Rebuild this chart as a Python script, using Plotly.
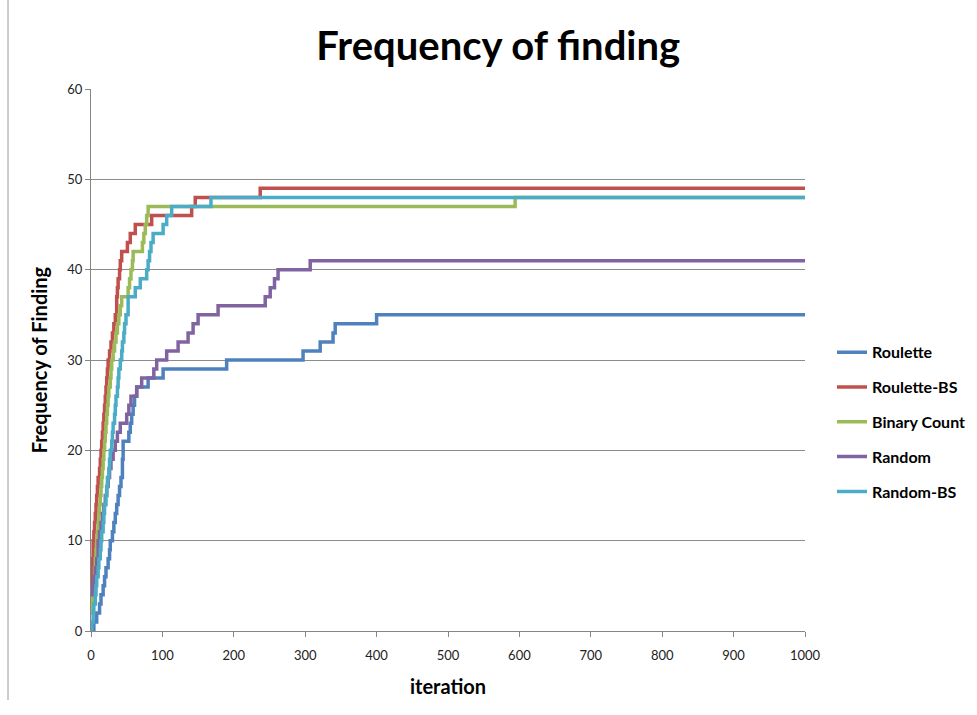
import plotly.graph_objects as go

# ---- data (step change points) ----
roulette_iter = [0, 4, 8, 12, 14, 17, 19, 21, 24, 26, 27, 30, 32, 34, 36, 38, 40, 42, 44, 45,
                 53, 55, 57, 59, 61, 64, 80, 101, 190, 297, 321, 339, 342, 400, 1000]
roulette_val = [0, 1, 2, 3, 4, 5, 6, 7, 8, 9, 10, 11, 12, 13, 14, 15, 16, 17, 19, 21,
                22, 23, 24, 25, 26, 27, 28, 29, 30, 31, 32, 33, 34, 35, 35]

roulette_bs_iter = [0, 1, 2, 3, 4, 5, 6, 7, 8, 9, 10, 11, 12, 13, 14, 15, 16, 17, 18, 19, 20,
                    21, 22, 23, 24, 26, 28, 30, 32, 34, 36, 37, 38, 40, 41, 43, 51, 55, 62, 85,
                    141, 146, 237, 1000]
roulette_bs_val = [5, 7, 8, 10, 11, 12, 13, 14, 15, 16, 17, 17, 18, 19, 20, 21, 22, 23, 24, 25, 26,
                   27, 28, 29, 30, 31, 32, 33, 34, 35, 37, 38, 39, 40, 41, 42, 43, 44, 45, 46,
                   47, 48, 49, 49]

binary_iter = [0, 1, 2, 3, 4, 5, 6, 7, 8, 9, 10, 11, 12, 13, 14, 15, 16, 17, 18, 19, 20, 21, 22,
               23, 24, 25, 26, 27, 28, 29, 31, 33, 35, 37, 39, 41, 43, 52, 54, 56, 58, 59, 72,
               74, 76, 78, 80, 594, 1000]
binary_val = [2, 3, 4, 5, 6, 7, 8, 9, 10, 11, 12, 13, 14, 15, 16, 17, 18, 19, 20, 21, 22, 23, 24,
              25, 26, 27, 27, 28, 29, 30, 31, 32, 33, 34, 35, 36, 37, 38, 39, 40, 41, 42, 43,
              44, 45, 46, 47, 48, 48]

random_iter = [0, 2, 4, 6, 8, 10, 12, 14, 16, 18, 20, 22, 24, 26, 28, 31, 34, 37, 41, 50, 53,
               56, 64, 71, 88, 92, 106, 122, 136, 143, 150, 178, 244, 251, 257, 262, 307, 1000]
random_val = [4, 5, 6, 7, 8, 10, 11, 12, 13, 14, 15, 16, 17, 18, 19, 20, 21, 22, 23, 24, 25,
              26, 27, 28, 29, 30, 31, 32, 33, 34, 35, 36, 37, 38, 39, 40, 41, 41]

random_bs_iter = [0, 1, 3, 4, 6, 7, 8, 10, 11, 13, 14, 15, 17, 18, 19, 21, 22, 23, 25, 26, 27,
                  29, 30, 31, 33, 34, 35, 37, 38, 39, 41, 43, 44, 46, 47, 49, 52, 62, 69, 78,
                  80, 82, 84, 87, 101, 106, 113, 168, 1000]
random_bs_val = [0, 1, 2, 3, 4, 5, 6, 7, 8, 9, 10, 11, 12, 13, 14, 15, 16, 17, 18, 19, 20,
                 21, 22, 23, 24, 25, 26, 27, 28, 29, 30, 31, 32, 33, 34, 35, 37, 38, 39, 40,
                 41, 42, 43, 44, 45, 46, 47, 48, 48]

series_names = ["Roulette", "Roulette-BS", "Binary Count", "Random", "Random-BS"]
colors = ["#4F81BD", "#C0504D", "#9BBB59", "#8064A2", "#4BACC6"]
x_ticks = list(range(0, 1001, 100))
y_ticks = list(range(0, 61, 10))

data = [
    (roulette_iter, roulette_val),
    (roulette_bs_iter, roulette_bs_val),
    (binary_iter, binary_val),
    (random_iter, random_val),
    (random_bs_iter, random_bs_val),
]

FONT = "Lato"

fig = go.Figure()
for name, color, (xs, ys) in zip(series_names, colors, data):
    assert len(xs) == len(ys), name
    fig.add_trace(go.Scatter(
        x=xs, y=ys, name=name, mode="lines",
        line=dict(color=color, width=3.5, shape="hv"),
        legendgroup=name,
    ))

fig.update_layout(
    width=977, height=715,
    margin=dict(l=91, r=172, t=89, b=84, autoexpand=False),
    paper_bgcolor="white", plot_bgcolor="white",
    font=dict(family=FONT, color="#000000"),
    title=dict(text="<b>Frequency of finding</b>", x=0.51, xanchor="center",
               y=0.935, yanchor="middle", font=dict(size=40, family=FONT, color="black")),
    showlegend=True,
    legend=dict(x=(832 - 91) / 714, xanchor="left", y=0.386, yanchor="middle",
                font=dict(size=16, family=FONT, color="black", weight="bold"),
                tracegroupgap=11, bgcolor="rgba(0,0,0,0)"),
)

fig.update_xaxes(
    range=[0, 1000], tickvals=x_ticks, ticktext=[str(t) for t in x_ticks],
    showgrid=False, showline=True, linecolor="#868686", linewidth=1,
    ticks="outside", ticklen=5, tickcolor="#868686", ticklabelstandoff=7,
    tickfont=dict(size=13, family=FONT, color="#222222"),
    title=dict(text="<b>iteration</b>", font=dict(size=20, family=FONT, color="black"), standoff=18),
    zeroline=False,
)
fig.update_yaxes(
    range=[0, 60], tickvals=y_ticks, ticktext=[str(t) for t in y_ticks],
    showgrid=True, gridcolor="#8c8c8c", gridwidth=1,
    showline=True, linecolor="#868686", linewidth=1,
    ticks="outside", ticklen=5, tickcolor="#868686",
    tickfont=dict(size=13, family=FONT, color="#222222"),
    title=dict(text="<b>Frequency of Finding</b>", font=dict(size=20, family=FONT, color="black"), standoff=14),
    zeroline=False,
)

# outer frame line of the original picture (left edge)
fig.add_shape(type="line", xref="paper", yref="paper",
              x0=(8 - 91) / 714, x1=(8 - 91) / 714, y0=-(700 - 631) / 542, y1=(631) / 542,
              line=dict(color="#9a9a9a", width=1))

fig.write_html("out.html")
